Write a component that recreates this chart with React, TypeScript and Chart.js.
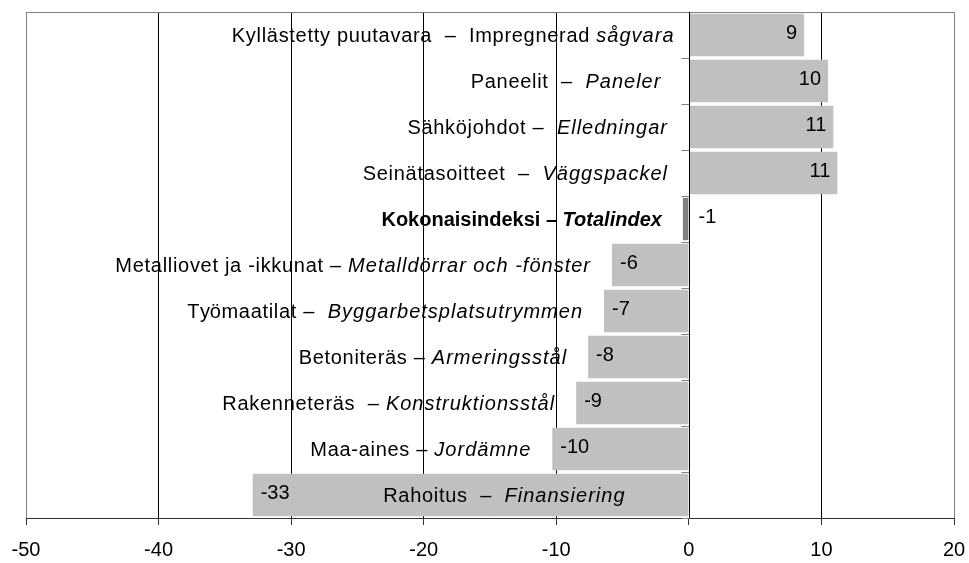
import React, { useEffect, useRef } from "react";
import { Chart, registerables } from "chart.js";

Chart.register(...registerables);

const categories = [
  "Kyllästetty puutavara",
  "Paneelit",
  "Sähköjohdot",
  "Seinätasoitteet",
  "Kokonaisindeksi",
  "Metalliovet ja -ikkunat",
  "Työmaatilat",
  "Betoniteräs",
  "Rakenneteräs",
  "Maa-aines",
  "Rahoitus",
];

const finnishParts = [
  "Kyllästetty puutavara  –  Impregnerad ",
  "Paneelit  –  ",
  "Sähköjohdot –  ",
  "Seinätasoitteet  –  ",
  "Kokonaisindeksi – ",
  "Metalliovet ja -ikkunat – ",
  "Työmaatilat –  ",
  "Betoniteräs – ",
  "Rakenneteräs  – ",
  "Maa-aines – ",
  "Rahoitus  –  ",
];

const swedishParts = [
  "sågvara",
  "Paneler  ",
  "Elledningar ",
  "Väggspackel ",
  "Totalindex",
  "Metalldörrar och -fönster",
  "Byggarbetsplatsutrymmen",
  "Armeringsstål",
  "Konstruktionsstål",
  "Jordämne",
  "Finansiering",
];

const barValues = [8.7, 10.5, 10.9, 11.2, -0.45, -5.8, -6.4, -7.6, -8.5, -10.3, -32.9];
const valueLabels = ["9", "10", "11", "11", "-1", "-6", "-7", "-8", "-9", "-10", "-33"];
const totalIndexRow = 4;

const xMin = -50;
const xMax = 20;
const xStep = 10;

const FONT = '"Liberation Sans", Arial, sans-serif';
const FS = 20;

function setFont(ctx: CanvasRenderingContext2D, bold: boolean, italic: boolean) {
  ctx.font = `${italic ? "italic " : ""}${bold ? "bold " : ""}${FS}px ${FONT}`;
}

function spacingFor(bold: boolean, italic: boolean) {
  return bold ? 0 : italic ? 1 : 0.7;
}

function spacedWidth(ctx: CanvasRenderingContext2D, text: string, sp: number) {
  return ctx.measureText(text).width + sp * text.length;
}

function drawSpaced(ctx: CanvasRenderingContext2D, text: string, x: number, y: number, sp: number) {
  if (sp === 0) {
    ctx.fillText(text, x, y);
    return;
  }
  const chars = Array.from(text);
  let prefix = "";
  chars.forEach((ch, i) => {
    const off = ctx.measureText(prefix).width + i * sp;
    if (ch !== " ") ctx.fillText(ch, x + off, y);
    prefix += ch;
  });
}

const overlayPlugin = {
  id: "overlay",
  afterDatasetsDraw(chart: any) {
    const ctx = chart.ctx as CanvasRenderingContext2D;
    const area = chart.chartArea;
    const xs = chart.scales.x;
    const ys = chart.scales.y;
    const x0 = Math.round(xs.getPixelForValue(0)) + 0.5;
    const n = categories.length;
    const catH = (area.bottom - area.top) / n;

    ctx.save();
    ctx.strokeStyle = "#808080";
    ctx.lineWidth = 1;
    ctx.beginPath();
    ctx.moveTo(area.left, Math.round(area.top) + 0.5);
    ctx.lineTo(area.right, Math.round(area.top) + 0.5);
    ctx.stroke();

    for (let i = 0; i <= n; i++) {
      const y = Math.round(area.top + i * catH) + 0.5;
      ctx.beginPath();
      ctx.moveTo(x0 - 8, y);
      ctx.lineTo(x0, y);
      ctx.stroke();
    }
    ctx.strokeStyle = "#000000";
    ctx.beginPath();
    ctx.moveTo(x0, area.top);
    ctx.lineTo(x0, area.bottom);
    ctx.stroke();

    ctx.fillStyle = "#000000";
    ctx.textBaseline = "middle";
    ctx.textAlign = "left";
    for (let i = 0; i < n; i++) {
      const yc = ys.getPixelForValue(i);
      const v = barValues[i];
      const bold = i === totalIndexRow;
      const barEnd = xs.getPixelForValue(v);

      setFont(ctx, bold, false);
      const sp1 = spacingFor(bold, false);
      const w1 = spacedWidth(ctx, finnishParts[i], sp1);
      setFont(ctx, bold, true);
      const sp2 = spacingFor(bold, true);
      const w2 = spacedWidth(ctx, swedishParts[i], sp2);
      const total = w1 + w2;

      let right: number;
      if (v >= 0) {
        right = x0 - 15;
      } else {
        right = barEnd - 21;
        if (right - total < area.left) right = x0 - 64;
      }
      ctx.textAlign = "left";
      setFont(ctx, bold, false);
      drawSpaced(ctx, finnishParts[i], right - total, yc + 1, sp1);
      setFont(ctx, bold, true);
      drawSpaced(ctx, swedishParts[i], right - w2, yc + 1, sp2);

      setFont(ctx, false, false);
      const yv = yc - 2;
      if (Math.abs(barEnd - x0) < 30) {
        ctx.textAlign = "left";
        ctx.fillText(valueLabels[i], x0 + 9, yv);
      } else if (v >= 0) {
        ctx.textAlign = "right";
        ctx.fillText(valueLabels[i], barEnd - 7, yv);
      } else {
        ctx.textAlign = "left";
        ctx.fillText(valueLabels[i], barEnd + 8, yv);
      }
    }
    ctx.restore();
  },
};

export default function App() {
  const canvasRef = useRef<HTMLCanvasElement | null>(null);

  useEffect(() => {
    const canvas = canvasRef.current;
    if (!canvas) return;
    const chart = new Chart(canvas, {
      type: "bar",
      data: {
        labels: categories,
        datasets: [
          {
            data: barValues,
            backgroundColor: barValues.map((_, i) => (i === totalIndexRow ? "#808080" : "#C0C0C0")),
            borderWidth: 0,
            barPercentage: 0.92,
            categoryPercentage: 1,
          },
        ],
      },
      options: {
        indexAxis: "y",
        animation: false,
        responsive: false,
        devicePixelRatio: 1,
        layout: { padding: { left: 26, right: 15, top: 12, bottom: 0 } },
        plugins: {
          legend: { display: false },
          tooltip: { enabled: false },
        },
        scales: {
          x: {
            type: "linear",
            min: xMin,
            max: xMax,
            ticks: {
              stepSize: xStep,
              color: "#000000",
              font: { family: FONT, size: FS },
              padding: 13,
              maxRotation: 0,
            },
            grid: {
              color: (c: any) => {
                const v = c.tick ? c.tick.value : null;
                if (v === xMin || v === xMax) return "#808080";
                if (v === 0) return "rgba(0,0,0,0)";
                return "#000000";
              },
              tickColor: "#333333",
              tickLength: 7,
              lineWidth: 1,
              drawTicks: true,
            },
            border: { display: true, color: "#333333", width: 1 },
            afterFit: (scale: any) => {
              scale.height = 45;
              scale.paddingLeft = 0;
              scale.paddingRight = 0;
            },
          },
          y: {
            type: "category",
            display: false,
            offset: true,
          },
        },
      },
      plugins: [overlayPlugin],
    } as any);
    return () => chart.destroy();
  }, []);

  return (
    <div style={{ position: "fixed", left: 0, top: 0, width: 969, height: 563, background: "#fff" }}>
      <canvas ref={canvasRef} width={969} height={563} style={{ width: 969, height: 563, display: "block" }} />
    </div>
  );
}
